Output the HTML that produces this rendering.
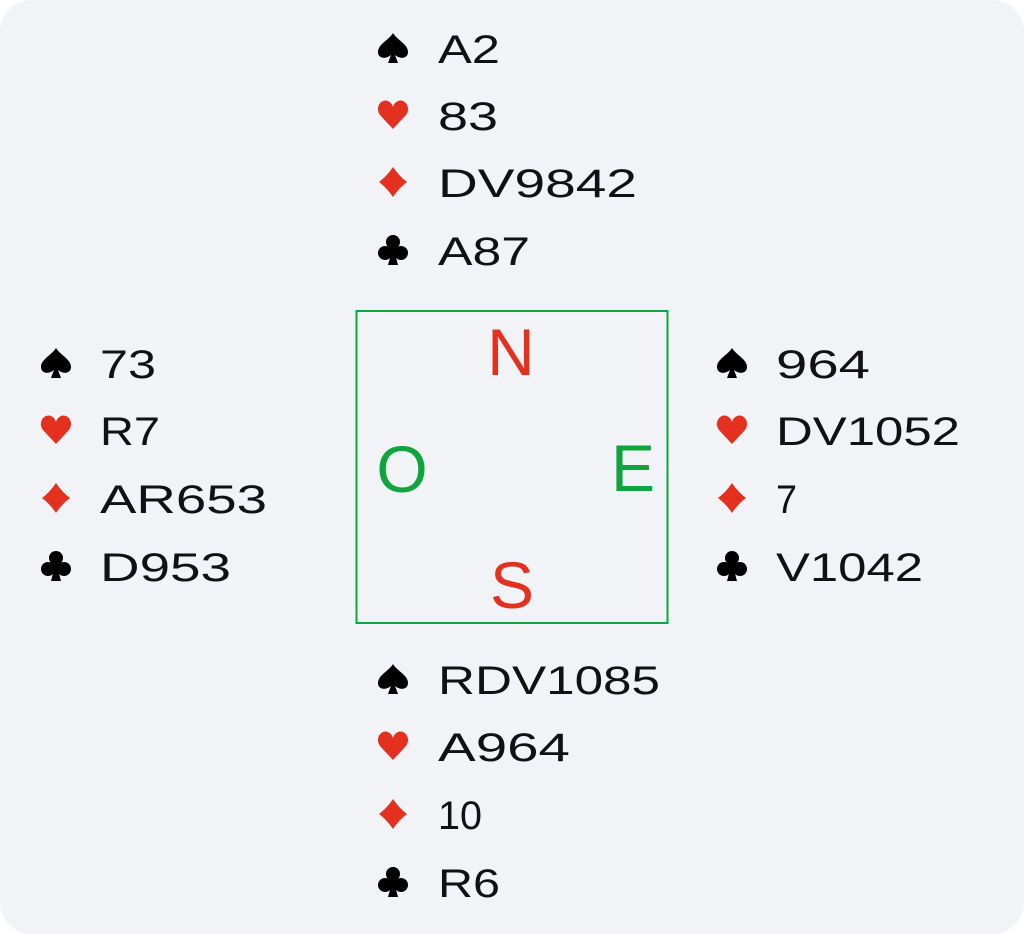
<!DOCTYPE html>
<html><head><meta charset="utf-8"><style>
html,body{margin:0;padding:0;background:#fff;}
svg{display:block}
.t{font-family:"Liberation Sans",sans-serif;font-size:40px;fill:#111;}
.L{font-family:"Liberation Sans",sans-serif;font-size:66px;text-anchor:middle;}
</style></head><body>
<svg width="1024" height="934" viewBox="0 0 1024 934" xmlns="http://www.w3.org/2000/svg">
<defs>
<g id="sp"><path d="M16 1 C12 8 1 12 1 20 C1 26 8 28 14 23 L11 31 L21 31 L18 23 C24 28 31 26 31 20 C31 12 20 8 16 1 Z" fill="#000"/></g>
<g id="he"><path d="M16 30 L3 16 C-2 9 3 1 9 1.5 C12.5 2 15 4.5 16 8 C17 4.5 19.5 2 23 1.5 C29 1 34 9 29 16 Z" fill="#e3301f"/></g>
<g id="di"><path d="M16 1 Q22 10 30 16 Q22 22 16 31 Q10 22 2 16 Q10 10 16 1 Z" fill="#e3301f"/></g>
<g id="cl" fill="#000"><circle cx="16" cy="8" r="7"/><circle cx="8" cy="19" r="7"/><circle cx="24" cy="19" r="7"/><rect x="12" y="12" width="8" height="8"/><path d="M14.5 18 L11 31 L21 31 L17.5 18 Z"/></g>
</defs>
<rect x="0" y="0" width="1024" height="934" rx="32" fill="#f1f3f7"/>
<!-- North -->
<use href="#sp" x="377" y="32"/><text class="t" x="438" y="63" textLength="62" lengthAdjust="spacingAndGlyphs">A2</text>
<use href="#he" x="377" y="99"/><text class="t" x="438" y="130" textLength="60" lengthAdjust="spacingAndGlyphs">83</text>
<use href="#di" x="377" y="166"/><text class="t" x="438" y="197" textLength="199" lengthAdjust="spacingAndGlyphs">DV9842</text>
<use href="#cl" x="377" y="234"/><text class="t" x="438" y="265" textLength="92" lengthAdjust="spacingAndGlyphs">A87</text>
<!-- West -->
<use href="#sp" x="40" y="347"/><text class="t" x="100" y="378" textLength="56" lengthAdjust="spacingAndGlyphs">73</text>
<use href="#he" x="40" y="414"/><text class="t" x="100" y="445" textLength="60" lengthAdjust="spacingAndGlyphs">R7</text>
<use href="#di" x="40" y="482"/><text class="t" x="100" y="513" textLength="167" lengthAdjust="spacingAndGlyphs">AR653</text>
<use href="#cl" x="40" y="550"/><text class="t" x="100" y="581" textLength="131" lengthAdjust="spacingAndGlyphs">D953</text>
<!-- East -->
<use href="#sp" x="716" y="347"/><text class="t" x="776" y="378" textLength="94" lengthAdjust="spacingAndGlyphs">964</text>
<use href="#he" x="716" y="414"/><text class="t" x="776" y="445" textLength="184" lengthAdjust="spacingAndGlyphs">DV1052</text>
<use href="#di" x="716" y="482"/><text class="t" x="776" y="513" textLength="21" lengthAdjust="spacingAndGlyphs">7</text>
<use href="#cl" x="716" y="550"/><text class="t" x="776" y="581" textLength="147" lengthAdjust="spacingAndGlyphs">V1042</text>
<!-- South -->
<use href="#sp" x="377" y="663"/><text class="t" x="438" y="694" textLength="222" lengthAdjust="spacingAndGlyphs">RDV1085</text>
<use href="#he" x="377" y="730"/><text class="t" x="438" y="761" textLength="132" lengthAdjust="spacingAndGlyphs">A964</text>
<use href="#di" x="377" y="798"/><text class="t" x="438" y="829" textLength="44" lengthAdjust="spacingAndGlyphs">10</text>
<use href="#cl" x="377" y="866"/><text class="t" x="438" y="897" textLength="62" lengthAdjust="spacingAndGlyphs">R6</text>
<!-- Box -->
<rect x="356.5" y="311" width="311" height="312" fill="none" stroke="#0ea63c" stroke-width="2"/>
<text class="L" x="511" y="375" fill="#e3301f">N</text>
<text class="L" x="402" y="492" fill="#0ea63c">O</text>
<text class="L" x="633" y="491" fill="#0ea63c">E</text>
<text class="L" x="512" y="608" fill="#e3301f">S</text>
</svg>
</body></html>
